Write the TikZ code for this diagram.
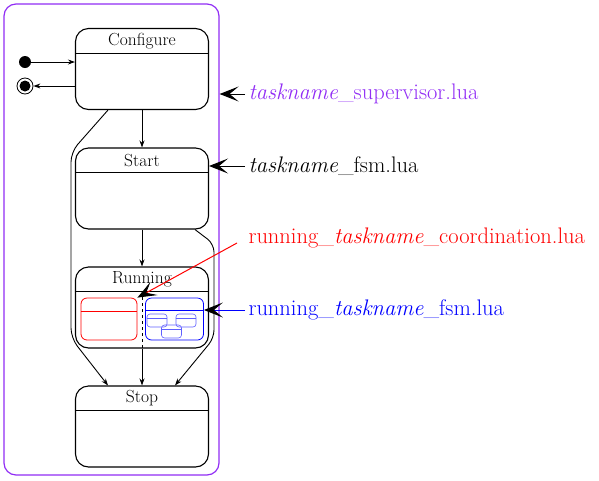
\documentclass[tikz,border=0pt]{standalone}
\usepackage{fontspec}
\usetikzlibrary{arrows.meta}
\definecolor{supviolet}{RGB}{145,45,245}
\definecolor{lightblue}{RGB}{95,95,255}

\begin{document}
\begin{tikzpicture}[x=1pt,y=-1pt,
  statebox/.style={draw,line width=1.1pt,rounded corners=13pt,minimum width=133pt,minimum height=81pt},
  subbox/.style={line width=0.8pt,rounded corners=6pt,minimum width=56pt,minimum height=42pt},
  trans/.style={line width=0.9pt,-{Stealth[length=7pt,width=5pt]}},
  bigarrow/.style={line width=1pt,-{Stealth[length=19pt,width=15pt,inset=9pt,black]}},
  title/.style={font=\fontsize{17.5}{21}\selectfont},
  filename/.style={anchor=west,font=\fontsize{22.5}{27}\selectfont}]

\useasboundingbox (0,0) rectangle (599,480);

\node[draw=supviolet,line width=1.2pt,rounded corners=12pt,
      minimum width=215pt,minimum height=471pt] (sup) at (111.5,239.5) {};

\foreach \n/\t/\y in {cfg/Configure/69, start/Start/188.5, run/Running/307.5, stop/Stop/426.5} {
  \node[statebox] (\n) at (142,\y) {};
  \node[title] (\n title) at ([yshift=-13pt]\n.north) {\t};
  \draw[line width=1pt] ([yshift=-25.5pt]\n.north west) -- ([yshift=-25.5pt]\n.north east);
}

\node[circle,fill,inner sep=0pt,minimum size=12pt] (init) at (25,62) {};
\node[circle,draw,line width=0.8pt,inner sep=0pt,minimum size=16pt] (final) at (25,86) {};
\fill (final.center) circle[radius=5.5pt];

\draw[trans] (init) -- (cfg.west |- init);
\draw[trans] (cfg.west |- final) -- (final);
\draw[trans] (cfg) -- (start);
\draw[trans] (start) -- (run);
\draw[trans] (run) -- (stop);
\draw[trans,rounded corners=10pt] ([xshift=-34pt]cfg.south) -- (71,152) -- (71,338) -- ([xshift=-34pt]stop.north);
\draw[trans,rounded corners=8pt] ([xshift=53pt]start.south) -- (214,244) -- (214,338) -- ([xshift=33pt]stop.north);

% running: coordination and fsm
\draw[dashed,line width=0.7pt] (142,297) -- (run.south);
\node[subbox,draw=red] (coord) at (109,319) {};
\draw[red,line width=0.8pt] ([yshift=-14pt]coord.north west) -- ([yshift=-14pt]coord.north east);
\node[subbox,draw=blue,minimum width=58pt] (fsm) at (174.5,319) {};
\draw[blue,line width=0.8pt] ([yshift=-13pt]fsm.north west) -- ([yshift=-13pt]fsm.north east);
\foreach \i/\x/\y in {1/157/320.5, 2/186/320.5, 3/171.5/331.5} {
  \node[draw=lightblue,line width=0.6pt,rounded corners=3pt,minimum width=20pt,minimum height=13pt] (sub\i) at (\x,\y) {};
  \draw[lightblue,line width=0.6pt] ([yshift=-5pt]sub\i.north west) -- ([yshift=-5pt]sub\i.north east);
}

\node[filename,text=supviolet] (suptxt) at (245,94) {\textit{taskname}\_supervisor.lua};
\node[filename] (fsmtxt) at (245,166) {\textit{taskname}\_fsm.lua};
\node[filename,text=red] (coordtxt) at (245,238) {running\_\textit{taskname}\_coordination.lua};
\node[filename,text=blue] (rfsmtxt) at (245,310) {running\_\textit{taskname}\_fsm.lua};

\draw[bigarrow] (suptxt) -- (sup.east |- suptxt);
\draw[bigarrow] (fsmtxt) -- (start.east |- fsmtxt);
\draw[bigarrow,red] ([xshift=-8pt,yshift=-5pt]coordtxt.west) -- (coord.north east);
\draw[bigarrow,blue] (rfsmtxt) -- (fsm.east |- rfsmtxt);

\end{tikzpicture}
\end{document}
